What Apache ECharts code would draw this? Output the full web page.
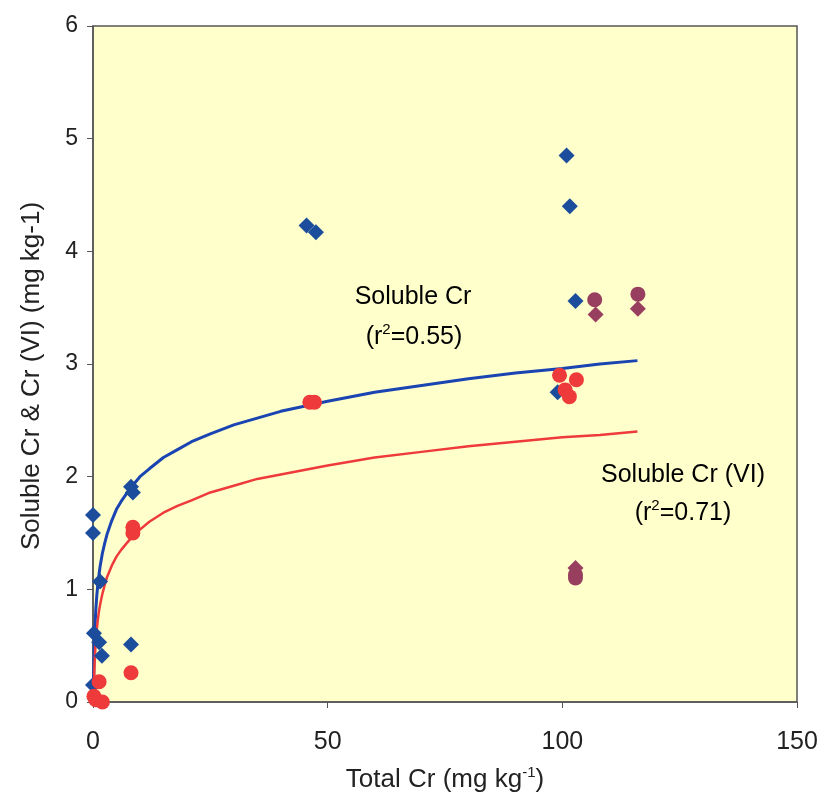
<!DOCTYPE html>
<html>
<head>
<meta charset="utf-8">
<title>Soluble Cr vs Total Cr</title>
<script src="https://cdn.jsdelivr.net/npm/echarts@6/dist/echarts.min.js"></script>
<style>
  html, body { margin: 0; padding: 0; background: #ffffff; }
  #chart { width: 827px; height: 805px; }
</style>
</head>
<body>
<div id="chart"></div>
<script>
// Soluble Cr (blue diamonds): total Cr vs soluble Cr, mg/kg
const solubleCrX = [0, 0, 0.2, 1.3, 1.9, 0, 1.5, 8.1, 8.5, 8.1, 45.5, 47.5, 99, 100.9, 101.6, 102.8];
const solubleCrY = [1.66, 1.50, 0.61, 0.53, 0.41, 0.15, 1.07, 1.91, 1.86, 0.51, 4.23, 4.17, 2.75, 4.85, 4.40, 3.56];

// Soluble Cr (VI) (red circles)
const crVIX = [0.2, 0.6, 2, 1.3, 8.5, 8.5, 8.1, 46.2, 47.2, 99.4, 103, 100.6, 101.5];
const crVIY = [0.05, 0.02, 0.0, 0.18, 1.55, 1.50, 0.26, 2.66, 2.66, 2.90, 2.86, 2.77, 2.71];

// Second sample group (maroon): soluble Cr as diamonds, Cr (VI) as circles
const groupBCrX = [107.1, 116.1, 102.8];
const groupBCrY = [3.44, 3.49, 1.19];
const groupBCrVIX = [106.9, 116.1, 102.8, 102.8];
const groupBCrVIY = [3.57, 3.62, 1.13, 1.10];

// Logarithmic trend curves
const trendX = [0.09, 0.15, 0.25, 0.4, 0.6, 0.8, 1, 1.25, 1.5, 2, 2.5, 3, 4, 5, 6, 8, 10, 12, 15, 18, 21, 25, 30, 35, 40, 50, 60, 70, 80, 90, 100, 108, 116];
const trendSolubleY = [0.02, 0.23, 0.45, 0.65, 0.82, 0.94, 1.03, 1.12, 1.20, 1.32, 1.41, 1.49, 1.61, 1.71, 1.78, 1.90, 2.00, 2.07, 2.17, 2.24, 2.31, 2.38, 2.46, 2.52, 2.58, 2.67, 2.75, 2.81, 2.87, 2.92, 2.96, 3.00, 3.03];
const trendCrVIX = [0.13, 0.2, 0.3, 0.5, 0.75, 1, 1.25, 1.5, 2, 2.5, 3, 4, 5, 6, 8, 10, 12, 15, 18, 21, 25, 30, 35, 40, 50, 60, 70, 80, 90, 100, 108, 116];
const trendCrVIY = [0.0, 0.15, 0.30, 0.48, 0.62, 0.72, 0.80, 0.86, 0.96, 1.04, 1.11, 1.21, 1.29, 1.35, 1.45, 1.53, 1.60, 1.68, 1.74, 1.79, 1.86, 1.92, 1.98, 2.02, 2.10, 2.17, 2.22, 2.27, 2.31, 2.35, 2.37, 2.40];

// Axis ticks
const xTicks = [0, 50, 100, 150];
const yTicks = [0, 1, 2, 3, 4, 5, 6];

const zip = (xs, ys) => xs.map((x, i) => [x, ys[i]]);

const FONT = '"Liberation Sans", Arial, sans-serif';
const TEXT = '#222222';
const BLUE_MARK = '#1b4d9c';
const BLUE_LINE = '#1a44b2';
const RED = '#ee3a3a';
const MAROON = '#983f60';

const chart = echarts.init(document.getElementById('chart'), null, { renderer: 'canvas' });

const baseRich = {
  a: { fontFamily: FONT, fontSize: 25, color: TEXT, lineHeight: 30 },
  s: { fontFamily: FONT, fontSize: 15, color: TEXT, lineHeight: 30, verticalAlign: 'top' }
};

chart.setOption({
  animation: false,
  backgroundColor: '#ffffff',
  grid: {
    left: 93, right: 30, top: 26, bottom: 103,
    show: true,
    backgroundColor: '#ffffcc',
    borderColor: '#555555',
    borderWidth: 1.5
  },
  xAxis: {
    type: 'value',
    min: xTicks[0], max: xTicks[xTicks.length - 1], interval: 50,
    name: '{a|Total Cr (mg kg}{s|-1}{a|)}',
    nameLocation: 'middle',
    nameGap: 63,
    nameTextStyle: { rich: { a: Object.assign({}, baseRich.a, { fontSize: 26 }), s: baseRich.s } },
    axisLine: { show: true, lineStyle: { color: '#555555', width: 1.5 } },
    axisTick: { show: true, inside: false, length: 6, lineStyle: { color: '#555555' } },
    axisLabel: { fontFamily: FONT, fontSize: 25, color: TEXT, margin: 28 },
    splitLine: { show: false }
  },
  yAxis: {
    type: 'value',
    min: yTicks[0], max: yTicks[yTicks.length - 1], interval: 1,
    name: 'Soluble Cr & Cr (VI) (mg kg-1)',
    nameLocation: 'middle',
    nameGap: 48,
    nameRotate: 90,
    nameTextStyle: { fontFamily: FONT, fontSize: 26, color: TEXT, padding: [0, 24, 0, 0] },
    axisLine: { show: true, lineStyle: { color: '#555555', width: 1.5 } },
    axisTick: { show: true, inside: false, length: 6, lineStyle: { color: '#555555' } },
    axisLabel: { fontFamily: FONT, fontSize: 23, color: TEXT, margin: 15 },
    splitLine: { show: false }
  },
  series: [
    {
      name: 'Soluble Cr trend',
      type: 'line',
      data: zip(trendX, trendSolubleY),
      smooth: false,
      showSymbol: false,
      lineStyle: { color: BLUE_LINE, width: 3, join: 'round' },
      z: 2
    },
    {
      name: 'Soluble Cr (VI) trend',
      type: 'line',
      data: zip(trendCrVIX, trendCrVIY),
      smooth: false,
      showSymbol: false,
      lineStyle: { color: RED, width: 2.5, join: 'round' },
      z: 2
    },
    {
      name: 'Soluble Cr',
      type: 'scatter',
      data: zip(solubleCrX, solubleCrY),
      symbol: 'diamond',
      symbolSize: [16, 16],
      itemStyle: { color: BLUE_MARK, opacity: 1 },
      z: 3
    },
    {
      name: 'Soluble Cr (VI)',
      type: 'scatter',
      data: zip(crVIX, crVIY),
      symbol: 'circle',
      symbolSize: 15,
      itemStyle: { color: RED, opacity: 1 },
      z: 4
    },
    {
      name: 'Soluble Cr, group B',
      type: 'scatter',
      data: zip(groupBCrX, groupBCrY),
      symbol: 'diamond',
      symbolSize: [16, 16],
      itemStyle: { color: MAROON, opacity: 1 },
      z: 5
    },
    {
      name: 'Soluble Cr (VI), group B',
      type: 'scatter',
      data: zip(groupBCrVIX, groupBCrVIY),
      symbol: 'circle',
      symbolSize: 15,
      itemStyle: { color: MAROON, opacity: 1 },
      z: 5
    }
  ],
  graphic: [
    {
      type: 'text', x: 413, y: 297, z: 10,
      style: { text: '{a|Soluble Cr}', rich: baseRich, align: 'center', verticalAlign: 'middle' }
    },
    {
      type: 'text', x: 414, y: 337, z: 10,
      style: { text: '{a|(r}{s|2}{a|=0.55)}', rich: baseRich, align: 'center', verticalAlign: 'middle' }
    },
    {
      type: 'text', x: 683, y: 475, z: 10,
      style: { text: '{a|Soluble Cr (VI)}', rich: baseRich, align: 'center', verticalAlign: 'middle' }
    },
    {
      type: 'text', x: 683, y: 513, z: 10,
      style: { text: '{a|(r}{s|2}{a|=0.71)}', rich: baseRich, align: 'center', verticalAlign: 'middle' }
    }
  ]
});
</script>
</body>
</html>
